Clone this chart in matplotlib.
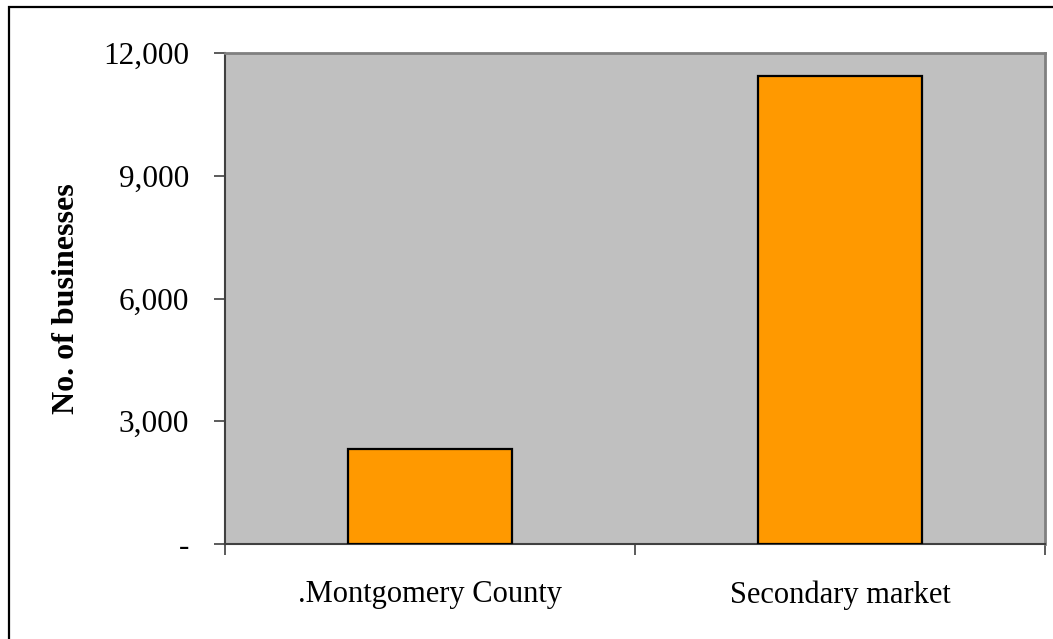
import matplotlib
matplotlib.use("Agg")
import matplotlib.pyplot as plt
from matplotlib.patches import Rectangle
from matplotlib.ticker import FixedLocator, FuncFormatter

categories = [".Montgomery County", "Secondary market"]
businesses = [2320, 11440]
y_ticks = [0, 3000, 6000, 9000, 12000]

plt.rcParams["font.family"] = ["Liberation Serif", "DejaVu Serif"]

W, H = 1053, 639
fig = plt.figure(figsize=(W / 100, H / 100), dpi=100)
fig.patch.set_facecolor("white")

# outer chart frame
fig.patches.append(Rectangle((9 / W, 0 - 0.01), 1.1, (H - 7) / H + 0.01,
                             transform=fig.transFigure, fill=False,
                             edgecolor="black", linewidth=1.6, zorder=10))

ax = fig.add_axes([225 / W, (H - 544) / H, 820 / W, 491 / H])
ax.set_facecolor("#C0C0C0")

x = range(len(categories))
ax.bar(x, businesses, width=0.40, color="#FF9900", edgecolor="black",
       linewidth=1.6, zorder=3)

ax.set_xlim(-0.5, len(categories) - 0.5)
ax.set_ylim(0, 12000)

ax.yaxis.set_major_locator(FixedLocator(y_ticks))
ax.yaxis.set_major_formatter(FuncFormatter(
    lambda v, p: "-" if v == 0 else f"{int(v):,}"))
ax.tick_params(axis="y", direction="out", length=8, width=1.2,
               color="#404040", labelsize=22.5, pad=18)

# category labels centred under bars, ticks on the category boundaries
ax.set_xticks(list(x))
ax.set_xticklabels(categories)
ax.tick_params(axis="x", which="major", length=0, labelsize=22, pad=26)
ax.set_xticks([-0.5, 0.5, 1.5], minor=True)
ax.tick_params(axis="x", which="minor", direction="out", length=8,
               width=1.2, color="#404040")

for side in ("top", "right"):
    ax.spines[side].set_color("#808080")
    ax.spines[side].set_linewidth(2)
for side in ("left", "bottom"):
    ax.spines[side].set_color("#404040")
    ax.spines[side].set_linewidth(1.5)

ax.set_ylabel("No. of businesses", fontsize=23, fontweight="bold",
              labelpad=16)

fig.savefig("out.png", dpi=100)
